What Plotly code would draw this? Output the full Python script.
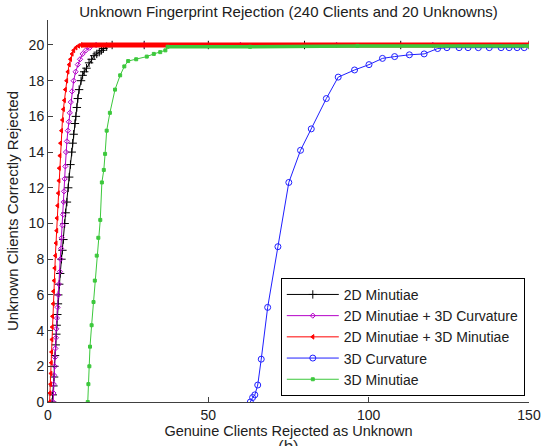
import plotly.graph_objects as go

# ---- data ----
title_text = "Unknown Fingerprint Rejection (240 Clients and 20 Unknowns)"
x_label = "Genuine Clients Rejected as Unknown"
y_label = "Unknown Clients Correctly Rejected"
x_ticks = [0, 50, 100, 150]
y_ticks = [0, 2, 4, 6, 8, 10, 12, 14, 16, 18, 20]

names = ["2D Minutiae", "2D Minutiae + 3D Curvature", "2D Minutiae + 3D Minutiae",
         "3D Curvature", "3D Minutiae"]

m2d_x = [1.3, 1.5, 1.7, 1.9, 2.0, 2.2, 2.4, 2.6, 2.7, 2.9, 3.1, 3.2, 3.5, 3.8, 4.2, 4.5, 4.8,
         5.2, 5.5, 5.9, 6.3, 6.6, 7.0, 7.4, 7.7, 8.0, 8.4, 8.7, 9.0, 9.3, 9.7, 10.3, 10.8,
         11.3, 12.0, 12.8, 13.6, 14.4, 15.2, 16.0, 16.7, 17.3, 18.3, 20, 30, 50, 80, 110, 150]
m2d_y = [0, 0.4, 0.9, 1.4, 2.0, 2.6, 3.2, 3.8, 4.3, 4.9, 5.5, 6.0, 6.6, 7.2, 8.0, 8.5, 9.1,
         10.0, 10.6, 11.2, 12.0, 12.6, 13.3, 14.0, 14.5, 15.0, 15.6, 16.0, 16.5, 17.0, 17.5,
         18.0, 18.3, 18.5, 18.7, 19.0, 19.2, 19.4, 19.5, 19.6, 19.7, 19.8, 19.9, 20, 20, 20,
         20, 20, 20]

m2d_c3d_x = [1.6, 1.7, 1.8, 1.9, 2.1, 2.2, 2.3, 2.5, 2.6, 2.8, 3.0, 3.2, 3.4, 3.7, 3.9, 4.1,
             4.3, 4.5, 4.7, 4.9, 5.0, 5.2, 5.4, 5.6, 5.9, 6.2, 6.5, 6.8, 7.1, 7.5, 8.0, 8.6,
             9.3, 10.0, 10.8, 11.8, 13.0, 15.0, 30, 60, 90, 120, 150]
m2d_c3d_y = [0, 0.5, 1.0, 1.5, 2.0, 2.5, 3.0, 3.6, 4.1, 4.7, 5.3, 6.0, 6.6, 7.3, 8.0, 8.6,
             9.2, 9.9, 10.5, 11.2, 11.8, 12.5, 13.2, 14.0, 14.6, 15.2, 15.7, 16.2, 16.8,
             17.4, 18.0, 18.5, 18.9, 19.2, 19.5, 19.7, 19.85, 20, 20, 20, 20, 20, 20]

m2d_m3d_x = [0.5, 0.6, 0.8, 0.9, 1.0, 1.1, 1.2, 1.3, 1.4, 1.6, 1.7, 1.9, 2.1, 2.3, 2.5, 2.7,
             2.8, 3.0, 3.2, 3.4, 3.5, 3.7, 3.9, 4.2, 4.5, 4.8, 5.1, 5.4, 5.8, 6.2, 6.6, 7.0,
             7.5, 8.0, 8.7, 9.5, 10.3, 150]
m2d_m3d_y = [0, 0.5, 1.0, 1.6, 2.2, 2.8, 3.5, 4.2, 4.8, 5.5, 6.2, 6.8, 7.5, 8.2, 8.9, 9.6,
             10.3, 11.0, 11.7, 12.4, 13.1, 13.8, 14.5, 15.2, 15.8, 16.4, 16.9, 17.5, 18.0,
             18.5, 18.9, 19.2, 19.5, 19.7, 19.85, 19.95, 20, 20]

c3d_x = [63.1, 63.8, 64.5, 65.4, 66.5, 68.5, 71.7, 75.1, 78.75, 82.1, 86.8, 90.5, 95.6,
         100.1, 104.3, 108.1, 112.7, 117.3, 121.5, 124.4, 128.2, 131.0, 134.2, 137.6,
         141.3, 143.8, 146.3, 148.5]
c3d_y = [0, 0.25, 0.4, 0.95, 2.4, 5.3, 8.7, 12.3, 14.1, 15.3, 17.0, 18.2, 18.6, 18.9,
         19.25, 19.35, 19.45, 19.5, 19.8, 19.85, 19.85, 19.85, 19.85, 19.85, 19.85, 19.85,
         19.85, 19.85]

m3d_x = [12.4, 12.6, 12.9, 13.1, 13.6, 14.2, 14.6, 15.2, 15.7, 16.3, 16.8, 17.4, 17.8,
         18.3, 19.3, 20.9, 22.5, 23.8, 25.0, 27.5, 30.8, 33.0, 35.0, 36.6, 37.3, 63.0,
         96.5, 150]
m3d_y = [0, 1.0, 2.0, 3.1, 4.3, 5.6, 6.8, 8.2, 9.2, 10.2, 12.3, 13.0, 13.9, 15.2, 16.2,
         17.5, 18.3, 18.8, 19.1, 19.2, 19.35, 19.5, 19.6, 19.7, 19.9, 19.9, 19.95, 19.95]

# ---- styles ----
FONT = "Liberation Sans, Arial, sans-serif"
AX = "#404040"
TXT = "#202020"
colors = ["#000000", "#b400c8", "#ff0000", "#1f1fff", "#3cc83c"]
symbols = ["cross-thin-open", "diamond-open", "triangle-left", "circle-open", "square"]
msizes = [6, 4, 4, 6, 3]

series = [(m2d_x, m2d_y), (m2d_c3d_x, m2d_c3d_y), (m2d_m3d_x, m2d_m3d_y),
          (c3d_x, c3d_y), (m3d_x, m3d_y)]

fig = go.Figure()
for i, (xs, ys) in enumerate(series):
    fig.add_trace(go.Scatter(
        x=xs, y=ys, mode="lines+markers", name=names[i],
        line=dict(color=colors[i], width=1),
        marker=dict(symbol=symbols[i], size=msizes[i], color=colors[i],
                    line=dict(color=colors[i], width=1)),
    ))
    # dense markers along the plateau render as a thick band
    if i in (2, 4):
        k = ys.index(max(ys)) if i == 2 else ys.index(19.9)
        fig.add_trace(go.Scatter(
            x=xs[k:], y=ys[k:], mode="lines", showlegend=False, hoverinfo="skip",
            line=dict(color=colors[i], width=5 if i == 2 else 3.5),
        ))

fig.add_annotation(text="(b)", xref="paper", yref="paper", x=0.5, y=-0.086,
                   xanchor="center", yanchor="top", showarrow=False,
                   font=dict(family=FONT, size=17, color="#303030"))

fig.update_layout(
    width=541, height=446,
    margin=dict(l=48, r=12, t=20, b=44, autoexpand=False),
    paper_bgcolor="white", plot_bgcolor="white",
    font=dict(family=FONT, size=14, color=TXT),
    title=dict(text=title_text, x=0.5, xref="paper", xanchor="center",
               y=1 - 12 / 446, yref="container", yanchor="middle",
               font=dict(family=FONT, size=15, color=TXT)),
    showlegend=True,
    legend=dict(x=0.484, y=0.325, xanchor="left", yanchor="top",
                bgcolor="white", bordercolor="#000000", borderwidth=1,
                font=dict(family=FONT, size=14, color=TXT),
                tracegroupgap=0, itemwidth=52),
    xaxis=dict(range=[0, 150], tickvals=x_ticks, ticks="inside", ticklen=5,
               tickcolor=AX, showline=True, linecolor=AX, linewidth=1,
               showgrid=False, zeroline=False, mirror=False, automargin=False,
               title=dict(text=x_label, standoff=4, font=dict(size=14.5)),
               tickfont=dict(size=14)),
    yaxis=dict(range=[0, 21.4], tickvals=y_ticks, ticks="inside", ticklen=5,
               tickcolor=AX, showline=True, linecolor=AX, linewidth=1,
               showgrid=False, zeroline=False, mirror=False, automargin=False,
               title=dict(text=y_label, standoff=6, font=dict(size=15)),
               tickfont=dict(size=14)),
)

fig.write_html("out.html", config={"displayModeBar": False},
               post_script="document.body.style.margin='0';"
                           "document.body.style.overflow='hidden';")
